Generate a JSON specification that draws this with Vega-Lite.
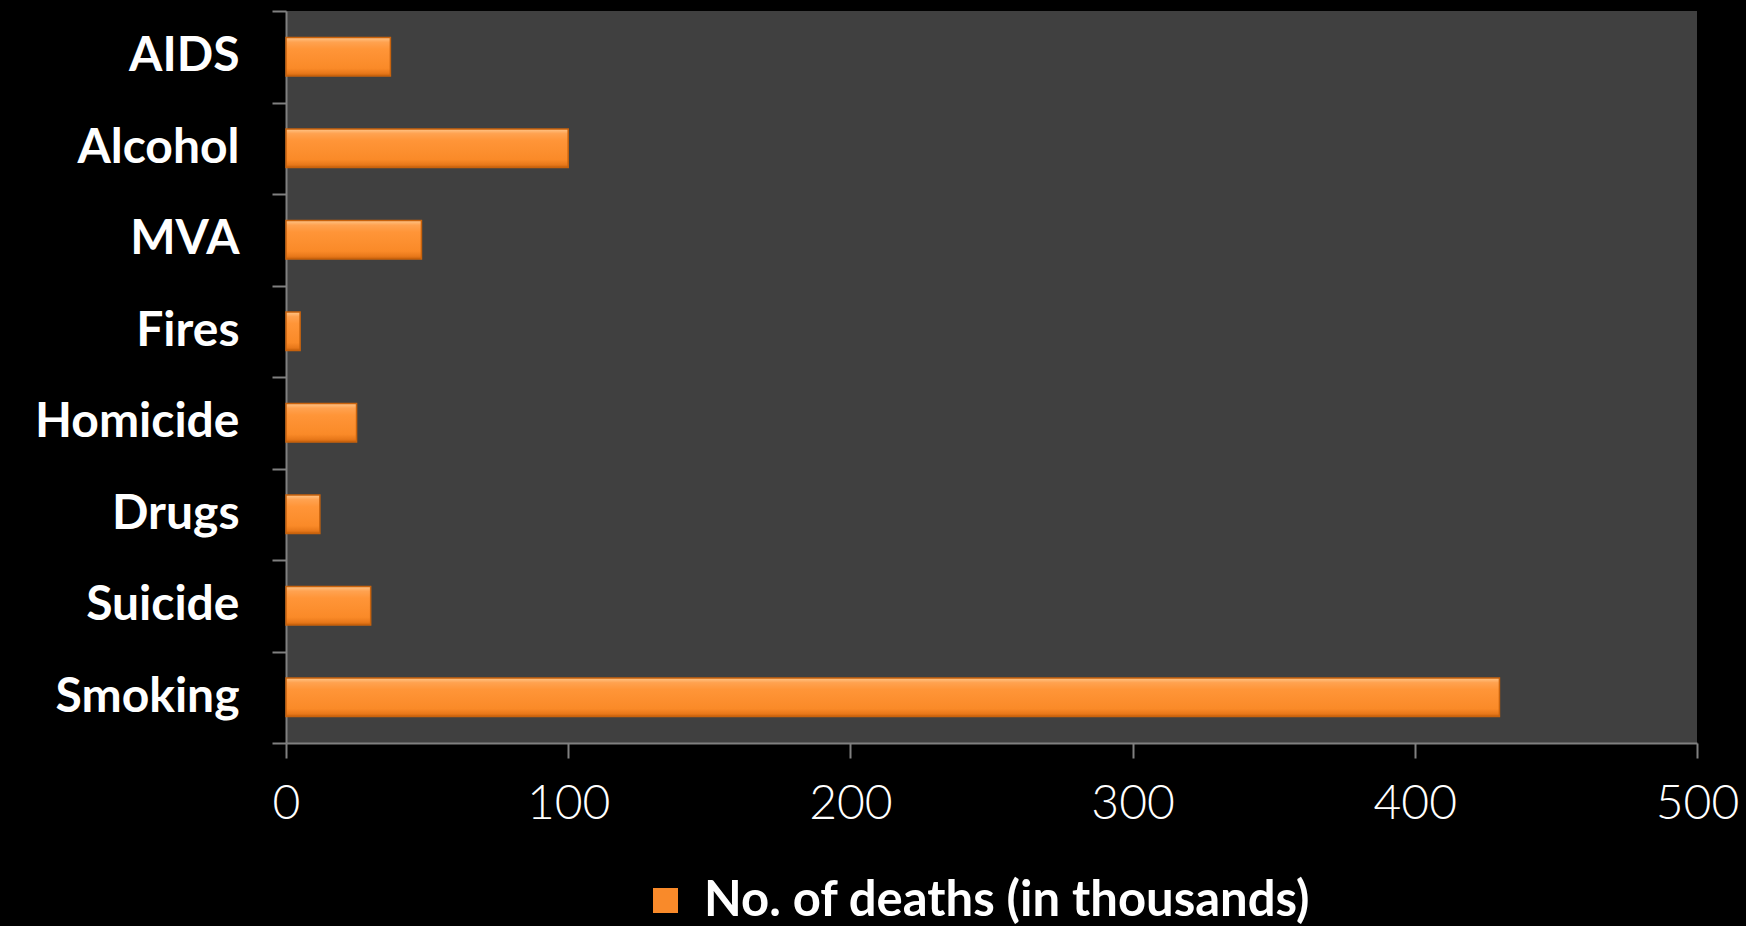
{
  "$schema": "https://vega.github.io/schema/vega-lite/v6.json",
  "width": 1411,
  "height": 732,
  "autosize": {"type": "none"},
  "padding": {"left": 286, "top": 11, "right": 49, "bottom": 183},
  "background": "#000000",
  "view": {"fill": "#404040", "stroke": null},
  "data": {
    "values": [
      {"cause": "AIDS", "deaths": 37, "series": "No. of deaths (in thousands)"},
      {"cause": "Alcohol", "deaths": 100, "series": "No. of deaths (in thousands)"},
      {"cause": "MVA", "deaths": 48, "series": "No. of deaths (in thousands)"},
      {"cause": "Fires", "deaths": 5, "series": "No. of deaths (in thousands)"},
      {"cause": "Homicide", "deaths": 25, "series": "No. of deaths (in thousands)"},
      {"cause": "Drugs", "deaths": 12, "series": "No. of deaths (in thousands)"},
      {"cause": "Suicide", "deaths": 30, "series": "No. of deaths (in thousands)"},
      {"cause": "Smoking", "deaths": 430, "series": "No. of deaths (in thousands)"}
    ]
  },
  "encoding": {
    "y": {
      "field": "cause",
      "type": "nominal",
      "sort": ["AIDS", "Alcohol", "MVA", "Fires", "Homicide", "Drugs", "Suicide", "Smoking"],
      "scale": {"paddingInner": 0, "paddingOuter": 0},
      "axis": {
        "title": null,
        "tickBand": "extent",
        "domainColor": "#808080",
        "domainWidth": 2,
        "tickColor": "#808080",
        "tickWidth": 2,
        "tickSize": 14,
        "labelPadding": 33,
        "labelFont": "Lato",
        "labelFontWeight": "bold",
        "labelFontSize": 48,
        "labelLimit": 400,
        "labelColor": "#ffffff"
      }
    },
    "x": {
      "field": "deaths",
      "type": "quantitative",
      "scale": {"domain": [0, 500], "nice": false},
      "axis": {
        "title": null,
        "grid": false,
        "values": [0, 100, 200, 300, 400, 500],
        "domainColor": "#808080",
        "domainWidth": 2,
        "tickColor": "#808080",
        "tickWidth": 2,
        "tickSize": 15,
        "labelPadding": 22,
        "labelFont": "Lato",
        "labelFontWeight": 300,
        "labelFontSize": 48,
        "labelColor": "#ffffff",
        "labelFlush": false
      }
    }
  },
  "layer": [
    {
      "mark": {"type": "bar", "height": {"band": 0.42}},
      "encoding": {
        "color": {
          "field": "series",
          "type": "nominal",
          "scale": {"range": ["#F98A2A"]},
          "legend": {
            "title": null,
            "orient": "none",
            "legendX": 355,
            "legendY": 865,
            "symbolType": "square",
            "symbolSize": 625,
            "symbolStrokeWidth": 0,
            "labelFont": "Lato",
            "labelFontWeight": "bold",
            "labelFontSize": 49,
            "labelColor": "#ffffff",
            "labelOffset": 14,
            "labelLimit": 1000
          }
        }
      }
    },
    {
      "mark": {
        "type": "bar",
        "height": {"band": 0.42},
        "stroke": "#C8620C",
        "strokeWidth": 1.5,
        "fill": {
          "gradient": "linear",
          "x1": 0, "y1": 0, "x2": 0, "y2": 1,
          "stops": [
            {"offset": 0, "color": "#FFC588"},
            {"offset": 0.12, "color": "#FFA250"},
            {"offset": 0.3, "color": "#FF9538"},
            {"offset": 0.8, "color": "#FA8A28"},
            {"offset": 0.93, "color": "#E8781A"},
            {"offset": 1, "color": "#C8620C"}
          ]
        }
      }
    }
  ]
}
